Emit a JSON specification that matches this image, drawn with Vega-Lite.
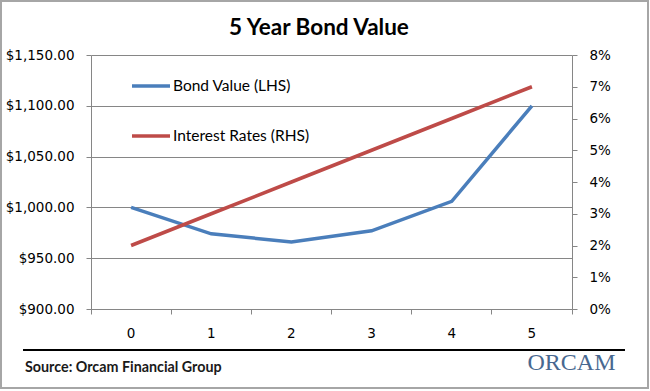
{
  "$schema": "https://vega.github.io/schema/vega-lite/v6.json",
  "width": 481,
  "height": 254,
  "autosize": {"type": "none"},
  "padding": {"left": 91, "top": 55, "right": 78, "bottom": 82},
  "background": "white",
  "data": {"values": [
    {"year": 0, "bond": 1000, "rate": 0.02},
    {"year": 1, "bond": 974, "rate": 0.03},
    {"year": 2, "bond": 966, "rate": 0.04},
    {"year": 3, "bond": 977, "rate": 0.05},
    {"year": 4, "bond": 1006, "rate": 0.06},
    {"year": 5, "bond": 1100, "rate": 0.07}
  ]},
  "config": {
    "view": {"stroke": null},
    "axis": {"domainColor": "#868686", "tickColor": "#868686", "gridColor": "#868686", "tickSize": 5, "labelFont": "DejaVu Sans", "labelFontSize": 13.5, "labelColor": "black", "title": null, "labelPadding": 12}
  },
  "layer": [
    {
      "mark": {"type": "line", "strokeWidth": 3.5},
      "encoding": {
        "x": {"field": "year", "type": "ordinal", "scale": {"type": "band", "paddingInner": 0, "paddingOuter": 0}, "axis": {"labelAngle": 0, "bandPosition": 1, "tickExtra": true, "grid": false}},
        "y": {"field": "bond", "type": "quantitative", "scale": {"domain": [900, 1150], "nice": false, "zero": false}, "axis": {"orient": "left", "values": [900, 950, 1000, 1050, 1100, 1150], "format": "$,.2f", "grid": true}},
        "color": {"datum": "Bond Value (LHS)", "scale": {"domain": ["Bond Value (LHS)", "Interest Rates (RHS)"], "range": ["#4a7ebb", "#be4b48"]}, "legend": {"orient": "none", "legendX": 39, "legendY": 10, "title": null, "symbolType": "stroke", "symbolSize": 1444, "symbolStrokeWidth": 3.5, "labelFont": "Lato", "labelFontSize": 15.5, "labelColor": "black", "rowPadding": 20, "labelOffset": 1, "direction": "vertical"}}
      }
    },
    {
      "mark": {"type": "line", "strokeWidth": 3.5},
      "encoding": {
        "x": {"field": "year", "type": "ordinal", "scale": {"type": "band", "paddingInner": 0, "paddingOuter": 0}, "axis": null},
        "y": {"field": "rate", "type": "quantitative", "scale": {"domain": [0, 0.08], "nice": false}, "axis": {"orient": "right", "values": [0, 0.01, 0.02, 0.03, 0.04, 0.05, 0.06, 0.07, 0.08], "format": ".0%", "grid": false}},
        "color": {"datum": "Interest Rates (RHS)"}
      }
    },
    {
      "data": {"values": [{}]},
      "layer": [
        {
          "mark": {"type": "rule", "color": "black", "strokeWidth": 2},
          "encoding": {
            "x": {"datum": -1.348, "type": "quantitative", "scale": {"domain": [-0.5, 5.5], "nice": false, "zero": false}, "axis": null},
            "x2": {"datum": 6.161},
            "y": {"datum": 859.6, "type": "quantitative", "scale": {"domain": [900, 1150], "nice": false, "zero": false}, "axis": null}
          }
        },
        {
          "mark": {"type": "text", "text": "5 Year Bond Value", "align": "center", "baseline": "middle", "font": "Lato", "fontWeight": "bold", "fontSize": 22.5, "color": "black"},
          "encoding": {
            "x": {"datum": 2.344, "type": "quantitative"},
            "y": {"datum": 1176.6, "type": "quantitative"}
          }
        },
        {
          "mark": {"type": "text", "text": "Source: Orcam Financial Group", "align": "left", "baseline": "middle", "font": "Lato", "fontWeight": "bold", "fontSize": 14.3, "color": "#1a1a1a"},
          "encoding": {
            "x": {"datum": -1.323, "type": "quantitative"},
            "y": {"datum": 841.5, "type": "quantitative"}
          }
        },
        {
          "mark": {"type": "text", "text": "ORCAM", "align": "center", "baseline": "middle", "font": "Liberation Serif", "fontSize": 24, "color": "#486890"},
          "encoding": {
            "x": {"datum": 5.494, "type": "quantitative"},
            "y": {"datum": 846.8, "type": "quantitative"}
          }
        },
        {
          "mark": {"type": "rect", "fill": null, "stroke": "#a6a6a6", "strokeWidth": 2},
          "encoding": {
            "x": {"datum": -1.6227, "type": "quantitative"},
            "x2": {"datum": 6.448},
            "y": {"datum": 1203.15, "type": "quantitative"},
            "y2": {"datum": 822.24}
          }
        }
      ]
    }
  ],
  "resolve": {"scale": {"x": "independent", "y": "independent"}}
}
